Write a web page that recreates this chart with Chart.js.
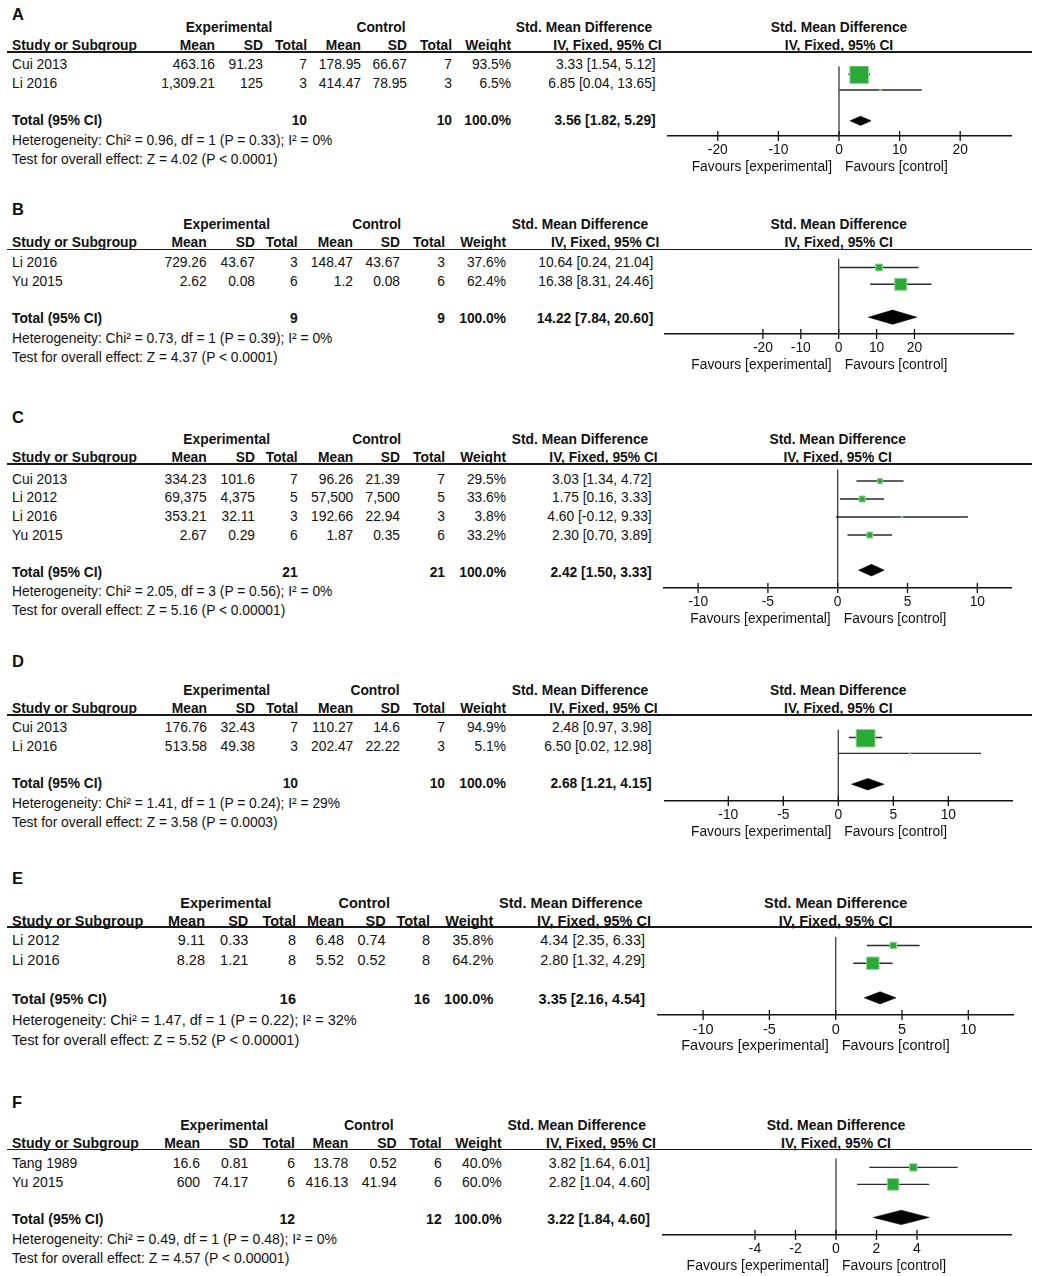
<!DOCTYPE html>
<html lang="en">
<head>
<meta charset="UTF-8">
<title>Forest plots A-F</title>
<script src="https://cdn.jsdelivr.net/npm/chart.js"></script>
<style>
  html, body { margin: 0; padding: 0; background: #fff; }
  #page { position: relative; width: 1040px; height: 1276px; overflow: hidden;
          font-family: Arial, "Liberation Sans", Helvetica, sans-serif; color: #111; }
  .t { position: absolute; white-space: nowrap; line-height: 1; }
  .b { font-weight: bold; }
  .rule { position: absolute; height: 1.5px; background: #1a1a1a; }
  canvas { position: absolute; }
</style>
</head>
<body>
<div id="page"></div>
<script>
// ---------- data ----------
const favLeft = "Favours [experimental]";
const favRight = "Favours [control]";

// A
const aStudy   = ["Cui 2013", "Li 2016"];
const aExpMean = [463.16, 1309.21];
const aExpSd   = [91.23, 125];
const aExpN    = [7, 3];
const aCtlMean = [178.95, 414.47];
const aCtlSd   = [66.67, 78.95];
const aCtlN    = [7, 3];
const aWeight  = [93.5, 6.5];
const aSmd     = [3.33, 6.85];
const aLow     = [1.54, 0.04];
const aHigh    = [5.12, 13.65];
const aTotal   = [10, 10, 3.56, 1.82, 5.29];
const aHet     = "Heterogeneity: Chi² = 0.96, df = 1 (P = 0.33); I² = 0%";
const aTest    = "Test for overall effect: Z = 4.02 (P < 0.0001)";
const aTicks   = [-20, -10, 0, 10, 20];

// B
const bStudy   = ["Li 2016", "Yu 2015"];
const bExpMean = [729.26, 2.62];
const bExpSd   = [43.67, 0.08];
const bExpN    = [3, 6];
const bCtlMean = [148.47, 1.2];
const bCtlSd   = [43.67, 0.08];
const bCtlN    = [3, 6];
const bWeight  = [37.6, 62.4];
const bSmd     = [10.64, 16.38];
const bLow     = [0.24, 8.31];
const bHigh    = [21.04, 24.46];
const bTotal   = [9, 9, 14.22, 7.84, 20.60];
const bHet     = "Heterogeneity: Chi² = 0.73, df = 1 (P = 0.39); I² = 0%";
const bTest    = "Test for overall effect: Z = 4.37 (P < 0.0001)";
const bTicks   = [-20, -10, 0, 10, 20];

// C
const cStudy   = ["Cui 2013", "Li 2012", "Li 2016", "Yu 2015"];
const cExpMean = [334.23, 69375, 353.21, 2.67];
const cExpSd   = [101.6, 4375, 32.11, 0.29];
const cExpN    = [7, 5, 3, 6];
const cCtlMean = [96.26, 57500, 192.66, 1.87];
const cCtlSd   = [21.39, 7500, 22.94, 0.35];
const cCtlN    = [7, 5, 3, 6];
const cWeight  = [29.5, 33.6, 3.8, 33.2];
const cSmd     = [3.03, 1.75, 4.60, 2.30];
const cLow     = [1.34, 0.16, -0.12, 0.70];
const cHigh    = [4.72, 3.33, 9.33, 3.89];
const cTotal   = [21, 21, 2.42, 1.50, 3.33];
const cHet     = "Heterogeneity: Chi² = 2.05, df = 3 (P = 0.56); I² = 0%";
const cTest    = "Test for overall effect: Z = 5.16 (P < 0.00001)";
const cTicks   = [-10, -5, 0, 5, 10];

// D
const dStudy   = ["Cui 2013", "Li 2016"];
const dExpMean = [176.76, 513.58];
const dExpSd   = [32.43, 49.38];
const dExpN    = [7, 3];
const dCtlMean = [110.27, 202.47];
const dCtlSd   = [14.6, 22.22];
const dCtlN    = [7, 3];
const dWeight  = [94.9, 5.1];
const dSmd     = [2.48, 6.50];
const dLow     = [0.97, 0.02];
const dHigh    = [3.98, 12.98];
const dTotal   = [10, 10, 2.68, 1.21, 4.15];
const dHet     = "Heterogeneity: Chi² = 1.41, df = 1 (P = 0.24); I² = 29%";
const dTest    = "Test for overall effect: Z = 3.58 (P = 0.0003)";
const dTicks   = [-10, -5, 0, 5, 10];

// E
const eStudy   = ["Li 2012", "Li 2016"];
const eExpMean = [9.11, 8.28];
const eExpSd   = [0.33, 1.21];
const eExpN    = [8, 8];
const eCtlMean = [6.48, 5.52];
const eCtlSd   = [0.74, 0.52];
const eCtlN    = [8, 8];
const eWeight  = [35.8, 64.2];
const eSmd     = [4.34, 2.80];
const eLow     = [2.35, 1.32];
const eHigh    = [6.33, 4.29];
const eTotal   = [16, 16, 3.35, 2.16, 4.54];
const eHet     = "Heterogeneity: Chi² = 1.47, df = 1 (P = 0.22); I² = 32%";
const eTest    = "Test for overall effect: Z = 5.52 (P < 0.00001)";
const eTicks   = [-10, -5, 0, 5, 10];

// F
const fStudy   = ["Tang 1989", "Yu 2015"];
const fExpMean = [16.6, 600];
const fExpSd   = [0.81, 74.17];
const fExpN    = [6, 6];
const fCtlMean = [13.78, 416.13];
const fCtlSd   = [0.52, 41.94];
const fCtlN    = [6, 6];
const fWeight  = [40.0, 60.0];
const fSmd     = [3.82, 2.82];
const fLow     = [1.64, 1.04];
const fHigh    = [6.01, 4.60];
const fTotal   = [12, 12, 3.22, 1.84, 4.60];
const fHet     = "Heterogeneity: Chi² = 0.49, df = 1 (P = 0.48); I² = 0%";
const fTest    = "Test for overall effect: Z = 4.57 (P < 0.00001)";
const fTicks   = [-4, -2, 0, 2, 4];

const panels = [
  { name: "A", study: aStudy, expMean: aExpMean, expSd: aExpSd, expN: aExpN, ctlMean: aCtlMean, ctlSd: aCtlSd, ctlN: aCtlN,
    weight: aWeight, smd: aSmd, low: aLow, high: aHigh, total: aTotal, het: aHet, test: aTest, ticks: aTicks },
  { name: "B", study: bStudy, expMean: bExpMean, expSd: bExpSd, expN: bExpN, ctlMean: bCtlMean, ctlSd: bCtlSd, ctlN: bCtlN,
    weight: bWeight, smd: bSmd, low: bLow, high: bHigh, total: bTotal, het: bHet, test: bTest, ticks: bTicks },
  { name: "C", study: cStudy, expMean: cExpMean, expSd: cExpSd, expN: cExpN, ctlMean: cCtlMean, ctlSd: cCtlSd, ctlN: cCtlN,
    weight: cWeight, smd: cSmd, low: cLow, high: cHigh, total: cTotal, het: cHet, test: cTest, ticks: cTicks },
  { name: "D", study: dStudy, expMean: dExpMean, expSd: dExpSd, expN: dExpN, ctlMean: dCtlMean, ctlSd: dCtlSd, ctlN: dCtlN,
    weight: dWeight, smd: dSmd, low: dLow, high: dHigh, total: dTotal, het: dHet, test: dTest, ticks: dTicks },
  { name: "E", study: eStudy, expMean: eExpMean, expSd: eExpSd, expN: eExpN, ctlMean: eCtlMean, ctlSd: eCtlSd, ctlN: eCtlN,
    weight: eWeight, smd: eSmd, low: eLow, high: eHigh, total: eTotal, het: eHet, test: eTest, ticks: eTicks },
  { name: "F", study: fStudy, expMean: fExpMean, expSd: fExpSd, expN: fExpN, ctlMean: fCtlMean, ctlSd: fCtlSd, ctlN: fCtlN,
    weight: fWeight, smd: fSmd, low: fLow, high: fHigh, total: fTotal, het: fHet, test: fTest, ticks: fTicks }
];

// ---------- layout (pixels) ----------
// cols = right edges: exp mean, exp sd, exp total, ctl mean, ctl sd, ctl total, weight, smd text
const layout = [
  { label: 14,  line: 52,   mark0: 61.7,  rowH: 19,   axis: 136,   axL: 668,   axR: 1011,   zero: 839,   ppu: 6.06,  font: 13.8,
    cols: [215, 263, 307, 361, 407, 452, 511, 655.7], expC: 229, ctlC: 381, smdC: 584 },
  { label: 209, line: 249.3, mark0: 259.3, rowH: 19,  axis: 334.3, axL: 665,   axR: 1013,   zero: 838.7, ppu: 3.79,  font: 13.8,
    cols: [206.7, 255, 297.7, 353, 400, 445, 506, 653.3], expC: 226.7, ctlC: 376.7, smdC: 580 },
  { label: 417, line: 464,  mark0: 476,   rowH: 18.8, axis: 587.7, axL: 664,   axR: 1011.7, zero: 837.7, ppu: 13.96, font: 13.8,
    cols: [206.7, 255, 297.7, 353.3, 400, 445, 506, 651.7], expC: 226.7, ctlC: 376.7, smdC: 580 },
  { label: 661, line: 715,  mark0: 724.5, rowH: 19,   axis: 800.7, axL: 665,   axR: 1012.3, zero: 838.3, ppu: 11,    font: 13.8,
    cols: [207, 255, 298, 353.3, 400, 445, 506, 651.7], expC: 226.7, ctlC: 375, smdC: 580 },
  { label: 878, line: 927,  mark0: 936.7, rowH: 20,   axis: 1015,  axL: 657.3, axR: 1013.3, zero: 835.7, ppu: 13.26, font: 14.5,
    cols: [205, 248.3, 296, 344, 385.7, 430, 493.3, 645], expC: 225.8, ctlC: 364.2, smdC: 570.8 },
  { label: 1102, line: 1149.3, mark0: 1159.3, rowH: 19, axis: 1235, axL: 662.3, axR: 1011, zero: 836, ppu: 20.25, font: 14,
    cols: [200, 248.3, 295, 348.3, 396.7, 441.7, 501.7, 650], expC: 224.2, ctlC: 368.8, smdC: 576.7 }
];

const TEXT_SHIFT = 3.5;   // text centre sits a little below the mark centre
const TOTAL_GAP = 1.95;   // rows between last study and the total row
const FONT = 'Arial, "Liberation Sans", Helvetica, sans-serif';

const page = document.getElementById('page');

function txt(x, y, s, align, bold, size) {
  const d = document.createElement('div');
  d.className = 't' + (bold ? ' b' : '');
  d.textContent = s;
  d.style.fontSize = size + 'px';
  d.style.left = x + 'px';
  d.style.top = y + 'px';
  const tx = align === 'right' ? '-100%' : align === 'center' ? '-50%' : '0';
  d.style.transform = 'translate(' + tx + ', -50%)';
  page.appendChild(d);
}

function fmt(v) {
  return v.toLocaleString('en-US', { maximumFractionDigits: 2 });
}
function ci(m, lo, hi) {
  return m.toFixed(2) + ' [' + lo.toFixed(2) + ', ' + hi.toFixed(2) + ']';
}
function boxSide(w) {
  return Math.max(2.6, 0.21 * w);
}

const forestAxis = {
  id: 'forestAxis',
  afterDraw(chart, args, opts) {
    const { ctx, chartArea } = chart;
    const x = chart.scales.x;
    const yAx = chartArea.bottom;
    ctx.save();
    ctx.strokeStyle = '#111';
    ctx.lineWidth = 1.3;
    x.ticks.forEach(t => {
      const px = x.getPixelForValue(t.value);
      ctx.beginPath();
      ctx.moveTo(px, yAx - 5);
      ctx.lineTo(px, yAx + 5);
      ctx.stroke();
    });
    const z = x.getPixelForValue(0);
    ctx.fillStyle = '#111';
    ctx.font = opts.size + 'px ' + FONT;
    ctx.textBaseline = 'middle';
    ctx.textAlign = 'right';
    ctx.fillText(favLeft, z - 7, yAx + 31);
    ctx.textAlign = 'left';
    ctx.fillText(favRight, z + 6, yAx + 31);
    ctx.restore();
  }
};

function drawPlot(p, L) {
  const W = 400;
  const plotH = Math.round(L.axis - L.line);
  const H = plotH + 45;
  const top = L.axis - plotH;
  const cv = document.createElement('canvas');
  cv.width = W; cv.height = H;
  cv.style.width = W + 'px'; cv.style.height = H + 'px';
  cv.style.left = '640px'; cv.style.top = top + 'px';
  page.appendChild(cv);

  const n = p.study.length;
  const yMin = -(L.mark0 - top) / L.rowH;
  const yMax = (L.axis - L.mark0) / L.rowH;
  const totRow = n - 1 + TOTAL_GAP;
  const xMin = (L.axL - L.zero) / L.ppu;
  const xMax = (L.axR - L.zero) / L.ppu;

  const dmW = (p.total[4] - p.total[3]) * L.ppu;
  const dmH = Math.min(8, 3 + dmW * 0.12) / L.rowH;

  const datasets = [];
  datasets.push({
    type: 'scatter', order: 0,
    data: p.study.map((s, i) => ({ x: p.smd[i], y: i })),
    pointStyle: 'rect',
    pointRadius: c => (boxSide(p.weight[c.dataIndex]) - 1) / Math.SQRT2,
    backgroundColor: 'rgb(44,170,56)', borderColor: 'rgb(150,214,150)', borderWidth: 1
  });
  datasets.push({
    type: 'line', order: 0,
    data: [
      { x: p.total[3], y: totRow }, { x: p.total[2], y: totRow - dmH },
      { x: p.total[4], y: totRow }, { x: p.total[2], y: totRow + dmH },
      { x: p.total[3], y: totRow }
    ],
    fill: 'shape', backgroundColor: '#000', borderColor: '#000', borderWidth: 0.6, pointRadius: 0
  });
  p.study.forEach((s, i) => {
    datasets.push({
      type: 'line', order: 1,
      data: [{ x: p.low[i], y: i }, { x: p.high[i], y: i }],
      borderColor: '#2a2a2a', borderWidth: 1.4, pointRadius: 0, fill: false
    });
  });
  datasets.push({
    type: 'line', order: 2,
    data: [{ x: 0, y: yMin }, { x: 0, y: yMax }],
    borderColor: '#3a3a3a', borderWidth: 1.3, pointRadius: 0, fill: false
  });

  new Chart(cv.getContext('2d'), {
    type: 'scatter',
    data: { datasets: datasets },
    options: {
      responsive: false,
      animation: false,
      events: [],
      layout: { padding: { left: L.axL - 640, right: 640 + W - L.axR, top: 0, bottom: 0 } },
      plugins: { legend: { display: false }, tooltip: { enabled: false }, forestAxis: { size: L.font } },
      scales: {
        x: {
          type: 'linear', min: xMin, max: xMax,
          afterBuildTicks: s => { s.ticks = p.ticks.map(v => ({ value: v })); },
          afterFit: s => { s.height = 45; },
          grid: { display: false, drawTicks: false },
          border: { display: true, color: '#111', width: 1.4 },
          ticks: { autoSkip: false, maxRotation: 0, padding: 6, color: '#111',
                   font: { family: FONT, size: L.font } }
        },
        y: { type: 'linear', display: false, reverse: true, min: yMin, max: yMax }
      }
    },
    plugins: [forestAxis]
  });
}

const colHeads = ['Mean', 'SD', 'Total', 'Mean', 'SD', 'Total', 'Weight'];

panels.forEach((p, k) => {
  const L = layout[k];
  const f = L.font;
  const c = L.cols;
  txt(12, L.label, p.name, 'left', true, 16.5);
  const h1 = L.line - 24.5, h2 = L.line - 6.5;
  txt(L.expC, h1, 'Experimental', 'center', true, f);
  txt(L.ctlC, h1, 'Control', 'center', true, f);
  txt(L.smdC, h1, 'Std. Mean Difference', 'center', true, f);
  txt(L.zero, h1, 'Std. Mean Difference', 'center', true, f);
  txt(12, h2, 'Study or Subgroup', 'left', true, f);
  colHeads.forEach((h, j) => txt(c[j], h2, h, 'right', true, f));
  txt(c[7] + 6, h2, 'IV, Fixed, 95% CI', 'right', true, f);
  txt(L.zero, h2, 'IV, Fixed, 95% CI', 'center', true, f);

  const r = document.createElement('div');
  r.className = 'rule';
  r.style.left = '7px';
  r.style.width = '1025px';
  r.style.top = (L.line - 0.75) + 'px';
  page.appendChild(r);

  p.study.forEach((s, i) => {
    const y = L.mark0 + i * L.rowH + TEXT_SHIFT;
    txt(12, y, s, 'left', false, f);
    const cells = [fmt(p.expMean[i]), fmt(p.expSd[i]), String(p.expN[i]),
                   fmt(p.ctlMean[i]), fmt(p.ctlSd[i]), String(p.ctlN[i]),
                   p.weight[i].toFixed(1) + '%', ci(p.smd[i], p.low[i], p.high[i])];
    cells.forEach((v, j) => txt(c[j], y, v, 'right', false, f));
  });

  const ty = L.mark0 + (p.study.length - 1 + TOTAL_GAP) * L.rowH + TEXT_SHIFT;
  txt(12, ty, 'Total (95% CI)', 'left', true, f);
  txt(c[2], ty, String(p.total[0]), 'right', true, f);
  txt(c[5], ty, String(p.total[1]), 'right', true, f);
  txt(c[6], ty, '100.0%', 'right', true, f);
  txt(c[7], ty, ci(p.total[2], p.total[3], p.total[4]), 'right', true, f);
  txt(12, ty + L.rowH + 1, p.het, 'left', false, f);
  txt(12, ty + 2 * L.rowH + 1, p.test, 'left', false, f);

  drawPlot(p, L);
});
</script>
</body>
</html>
